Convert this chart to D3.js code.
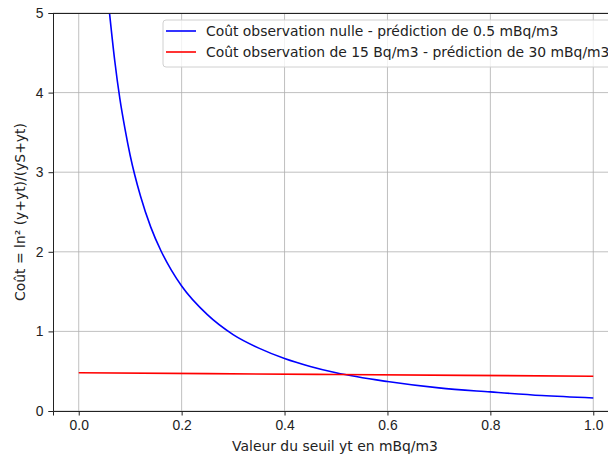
<!DOCTYPE html>
<html>
<head>
<meta charset="utf-8">
<script src="https://d3js.org/d3.v7.min.js"></script>
<style>
    body { margin: 0; background: #fff; }
    svg { display: block; font-family: "DejaVu Sans", sans-serif; }
    .grid line { stroke: #b0b0b0; stroke-width: 0.8; }
    .axis text { font-size: 13.9px; fill: #222; }
    .axis line, .axis path { stroke: #222; }
    .axis-label { font-size: 13.9px; fill: #222; }
    .legend text { font-size: 13.9px; fill: #222; }
</style>
</head>
<body>
<svg id="chart"></svg>
<script>
// seuil yt (mBq/m3) et coût
const blueX = [0.06, 0.07, 0.08, 0.09, 0.10, 0.12, 0.14, 0.16, 0.18, 0.20, 0.25, 0.30, 0.35, 0.40, 0.45, 0.50, 0.60, 0.70, 0.80, 0.90, 1.00];
const blueY = [4.99, 4.40, 3.92, 3.54, 3.21, 2.70, 2.31, 2.01, 1.77, 1.57, 1.21, 0.96, 0.79, 0.66, 0.56, 0.48, 0.37, 0.29, 0.24, 0.195, 0.164];
const redX = [0.00, 0.25, 0.50, 0.75, 1.00];
const redY = [0.480, 0.469, 0.458, 0.448, 0.437];
const xTicks = [0.0, 0.2, 0.4, 0.6, 0.8, 1.0];
const yTicks = [0, 1, 2, 3, 4, 5];
const legendLabels = [
    "Coût observation nulle - prédiction de 0.5 mBq/m3",
    "Coût observation de 15 Bq/m3 - prédiction de 30 mBq/m3"
];
const seriesColors = ["#0000ff", "#ff0000"];

class CostChart {

    constructor(_config) {
        this.config = {
            parentElement: _config.parentElement,
            containerWidth: _config.containerWidth || 608,
            containerHeight: _config.containerHeight || 460,
        }
        this.config.margin = _config.margin || { top: 13, bottom: 49, right: -11, left: 53 }
        this.initVis();
        this.updateVis();
    }

    initVis() {
        let vis = this;

        vis.width = vis.config.containerWidth - vis.config.margin.left - vis.config.margin.right;
        vis.height = vis.config.containerHeight - vis.config.margin.top - vis.config.margin.bottom;
        vis.svg = d3.select(vis.config.parentElement)
            .attr('width', vis.config.containerWidth)
            .attr('height', vis.config.containerHeight);

        vis.chart = vis.svg.append('g')
            .attr('transform', `translate(${vis.config.margin.left},${vis.config.margin.top})`);

        // matplotlib default margins: 5% on x
        vis.xScale = d3.scaleLinear()
            .domain([-0.05, 1.05])
            .range([0, vis.width]);

        vis.yScale = d3.scaleLinear()
            .domain([0, 5])
            .range([vis.height, 0]);

        vis.xAxis = d3.axisBottom(vis.xScale)
            .tickValues(xTicks)
            .tickFormat(d3.format('.1f'))
            .tickSizeOuter(0)
            .tickSize(4.5)
            .tickPadding(5);

        vis.yAxis = d3.axisLeft(vis.yScale)
            .tickValues(yTicks)
            .tickFormat(d3.format('d'))
            .tickSizeOuter(0)
            .tickSize(4.5)
            .tickPadding(5);

        // grid
        vis.chart.append('g')
            .attr('class', 'grid')
            .selectAll('line.gx')
            .data(xTicks)
            .join('line')
            .attr('x1', d => vis.xScale(d))
            .attr('x2', d => vis.xScale(d))
            .attr('y1', 0)
            .attr('y2', vis.height);

        vis.chart.select('.grid')
            .selectAll('line.gy')
            .data(yTicks)
            .join(enter => enter.append('line').attr('class', 'gy'))
            .attr('x1', 0)
            .attr('x2', vis.width)
            .attr('y1', d => vis.yScale(d))
            .attr('y2', d => vis.yScale(d));

        vis.clip = vis.chart.append('clipPath')
            .attr('id', 'clip')
            .append('rect')
            .attr('width', vis.width)
            .attr('height', vis.height);

        vis.lines = vis.chart.append('g')
            .attr('clip-path', 'url(#clip)');

        vis.chart.append('g')
            .attr('class', 'x axis')
            .attr('transform', `translate(0,${vis.height})`)
            .call(vis.xAxis);

        vis.chart.append('g')
            .attr('class', 'y axis')
            .call(vis.yAxis);

        // top spine
        vis.chart.append('line')
            .attr('x1', 0)
            .attr('x2', vis.width)
            .attr('y1', 0.5)
            .attr('y2', 0.5)
            .attr('stroke', '#222');

        vis.chart.append('text')
            .attr('class', 'axis-label')
            .attr('x', 282)
            .attr('y', vis.height + 40)
            .attr('text-anchor', 'middle')
            .text("Valeur du seuil yt en mBq/m3");

        vis.chart.append('text')
            .attr('class', 'axis-label')
            .attr('y', -28)
            .attr('x', -vis.height / 2)
            .attr('transform', 'rotate(-90)')
            .attr('text-anchor', 'middle')
            .text("Coût = ln² (y+yt)/(yS+yt)");
    }

    updateVis() {
        let vis = this;

        const series = [
            blueX.map((x, i) => ({ x: x, y: blueY[i] })),
            redX.map((x, i) => ({ x: x, y: redY[i] }))
        ];

        const line = d3.line()
            .x(d => vis.xScale(d.x))
            .y(d => vis.yScale(d.y))
            .curve(d3.curveMonotoneX);

        vis.lines.selectAll('path')
            .data(series)
            .join('path')
            .attr('fill', 'none')
            .attr('stroke', (d, i) => seriesColors[i])
            .attr('stroke-width', 1.6)
            .attr('d', line);

        // legend
        vis.legend = vis.chart.append('g')
            .attr('class', 'legend')
            .attr('transform', 'translate(110,7)');

        vis.legend.append('rect')
            .attr('width', 470)
            .attr('height', 47)
            .attr('rx', 3)
            .attr('fill', 'rgba(255,255,255,0.8)')
            .attr('stroke', '#d0d0d0');

        const rows = vis.legend.selectAll('g.row')
            .data(legendLabels)
            .join('g')
            .attr('class', 'row')
            .attr('transform', (d, i) => `translate(0,${11 + i * 21})`);

        rows.append('line')
            .attr('x1', 3)
            .attr('x2', 33)
            .attr('stroke', (d, i) => seriesColors[i])
            .attr('stroke-width', 1.6);

        rows.append('text')
            .attr('x', 43)
            .attr('dy', '0.35em')
            .text(d => d);
    }
}

new CostChart({ parentElement: '#chart' });
</script>
</body>
</html>
